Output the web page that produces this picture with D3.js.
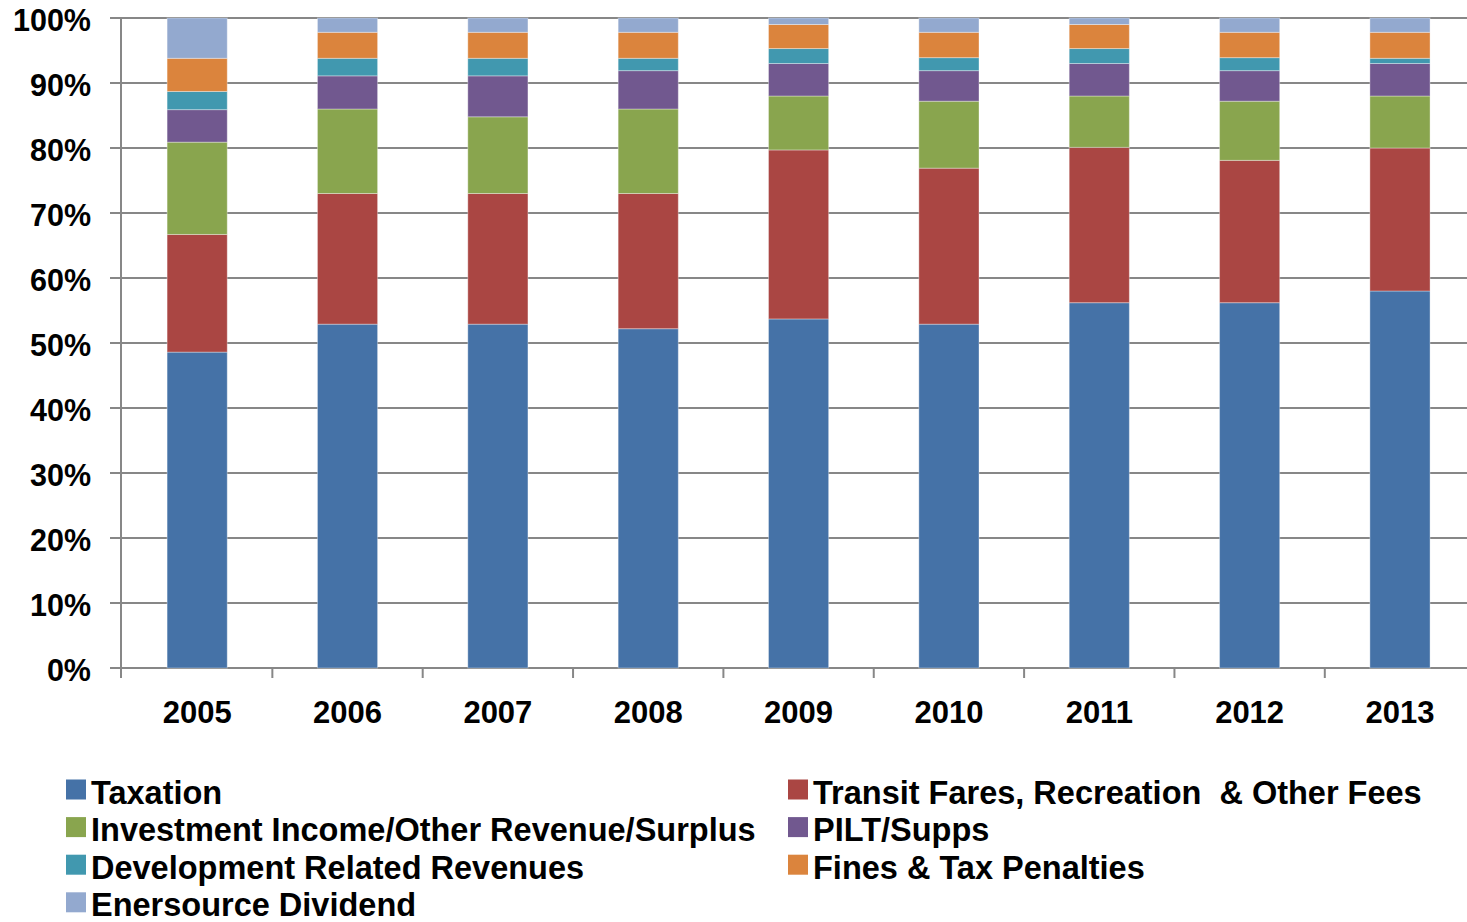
<!DOCTYPE html>
<html><head><meta charset="utf-8">
<script src="https://cdn.jsdelivr.net/npm/d3@7"></script>
<style>body{margin:0;background:#fff}svg{display:block}text{font-family:"Liberation Sans",Arial,sans-serif;font-weight:bold;fill:#000}</style>
</head><body><svg id="c" width="1467" height="922"></svg>
<script>
const years = ["2005","2006","2007","2008","2009","2010","2011","2012","2013"];
const seriesNames = ["Taxation","Transit Fares, Recreation  & Other Fees","Investment Income/Other Revenue/Surplus","PILT/Supps","Development Related Revenues","Fines & Tax Penalties","Enersource Dividend"];
const taxation   = [48.6, 52.9, 52.9, 52.2, 53.7, 52.9, 56.2, 56.2, 58.0];
const transit    = [18.1, 20.1, 20.1, 20.8, 26.0, 24.0, 23.9, 21.9, 22.0];
const investment = [14.2, 13.0, 11.8, 13.0,  8.3, 10.3,  7.9,  9.1,  8.0];
const pilt       = [ 5.0,  5.1,  6.3,  5.9,  5.0,  4.7,  5.0,  4.7,  5.0];
const development= [ 2.8,  2.7,  2.7,  1.9,  2.3,  2.0,  2.3,  2.0,  0.8];
const fines      = [ 5.1,  4.0,  4.0,  4.0,  3.7,  3.9,  3.7,  3.9,  4.0];
const enersource = [ 6.2,  2.2,  2.2,  2.2,  1.0,  2.2,  1.0,  2.2,  2.2];
const yTicks = [0,10,20,30,40,50,60,70,80,90,100];
const colors = ["#4572A7","#AA4643","#89A54E","#71588F","#4198AF","#DB843D","#93A9CF"];

(function(){
const allSeries = [taxation, transit, investment, pilt, development, fines, enersource];
const rows = years.map((yr,i)=>{const r={year:yr}; seriesNames.forEach((n,k)=>r[n]=allSeries[k][i]); return r;});
const stack = d3.stack().keys(seriesNames)(rows);

const svg = d3.select("#c");
const mLeft = 121, mTop = 18, mBottom = 668, step = 150.35;
const x = d3.scaleBand().domain(years).range([mLeft+1, mLeft+1 + step*years.length]).padding(0);
const y = d3.scaleLinear().domain([0,100]).range([mBottom, mTop]);
const barW = x.bandwidth()*0.4;

svg.append("g").selectAll("line").data(yTicks).join("line")
  .attr("x1", mLeft-11).attr("x2", 1467).attr("y1", d=>y(d)).attr("y2", d=>y(d))
  .attr("stroke", "#878787").attr("stroke-width", 2);
svg.append("line").attr("x1", mLeft).attr("x2", mLeft).attr("y1", mTop).attr("y2", mBottom+10)
  .attr("stroke", "#878787").attr("stroke-width", 2);
svg.append("g").selectAll("line").data(d3.range(1, years.length+1)).join("line")
  .attr("x1", i=>mLeft+1 + i*x.step()).attr("x2", i=>mLeft+1 + i*x.step())
  .attr("y1", mBottom).attr("y2", mBottom+10)
  .attr("stroke", "#878787").attr("stroke-width", 2);

svg.append("g").selectAll("g").data(stack).join("g")
  .attr("fill", (d,i)=>colors[i])
  .selectAll("rect").data(d=>d).join("rect")
  .attr("x", d=>x(d.data.year)+x.bandwidth()/2-barW/2)
  .attr("width", barW)
  .attr("y", d=>y(d[1]))
  .attr("height", d=>y(d[0])-y(d[1]))
  .attr("stroke", "rgba(255,255,255,0.35)").attr("stroke-width", 1);

svg.append("g").selectAll("text").data(yTicks).join("text")
  .attr("x", 91).attr("y", d=>y(d)).attr("dy", "0.42em")
  .attr("text-anchor", "end").attr("font-size", 30.5)
  .text(d=>d+"%");
svg.append("g").selectAll("text").data(years).join("text")
  .attr("x", d=>x(d)+x.bandwidth()/2).attr("y", 723)
  .attr("text-anchor", "middle").attr("font-size", 31)
  .text(d=>d);

const legPos = [[66,0],[788,0],[66,1],[788,1],[66,2],[788,2],[66,3]];
const leg = svg.append("g").selectAll("g").data(seriesNames).join("g")
  .attr("transform", (d,i)=>`translate(${legPos[i][0]},${779.5 + legPos[i][1]*37.6})`);
leg.append("rect").attr("width", 20).attr("height", 20).attr("fill", (d,i)=>colors[i]);
leg.append("text").attr("x", 25).attr("y", 24).attr("font-size", 32.5)
  .style("white-space","pre").text(d=>d);
})();
</script></body></html>
